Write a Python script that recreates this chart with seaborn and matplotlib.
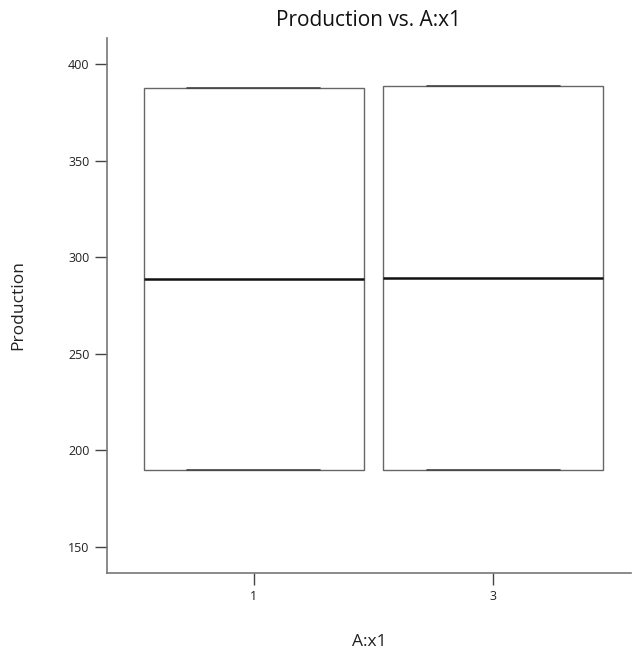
import matplotlib
matplotlib.use("Agg")
import matplotlib.pyplot as plt
import seaborn as sns
import pandas as pd

levels = ["1", "3"]
obs_1 = [189.9, 189.9, 288.7, 387.6, 387.6]
obs_3 = [190.0, 190.0, 289.2, 388.6, 388.6]
yticks = [150, 200, 250, 300, 350, 400]

df = pd.DataFrame({
    "A:x1": [levels[0]] * len(obs_1) + [levels[1]] * len(obs_3),
    "Production": obs_1 + obs_3,
})

sns.set_style("white")
plt.rcParams["font.family"] = ["Open Sans", "DejaVu Sans"]

fig = plt.figure(figsize=(6.32, 6.51), dpi=100)
ax = fig.add_axes([107 / 632, 1 - 573 / 651, (631 - 107) / 632, (573 - 38) / 651])

sns.boxplot(data=df, x="A:x1", y="Production", order=levels, ax=ax,
            color="white", width=0.92, whis=10, showfliers=False,
            linecolor="#666666", linewidth=1.0,
            capwidths=0.555,
            medianprops=dict(color="#111111", linewidth=1.8),
            capprops=dict(color="#444444", linewidth=1.2),
            boxprops=dict(edgecolor="#666666", facecolor="white"))

ax.set_xlim(-0.6125, 1.575)
ax.set_ylim(136.5, 413.5)
ax.set_yticks(yticks)
ax.set_yticklabels([str(t) for t in yticks], fontsize=9, color="#222222")
ax.tick_params(axis="x", labelsize=9, colors="#222222")
ax.tick_params(axis="both", direction="out", length=8.5, width=1, color="#444444", bottom=True, left=True, pad=4)

for s in ["top", "right"]:
    ax.spines[s].set_visible(False)
for s in ["left", "bottom"]:
    ax.spines[s].set_color("#777777")
    ax.spines[s].set_linewidth(1.2)

ax.set_title("Production vs. A:x1", fontsize=15, color="#111111", pad=9)
ax.set_xlabel("A:x1", fontsize=12.5, color="#222222", labelpad=22)
ax.set_ylabel("Production", fontsize=12.5, color="#222222", labelpad=30)

fig.savefig("out.png", dpi=100, facecolor="white")
